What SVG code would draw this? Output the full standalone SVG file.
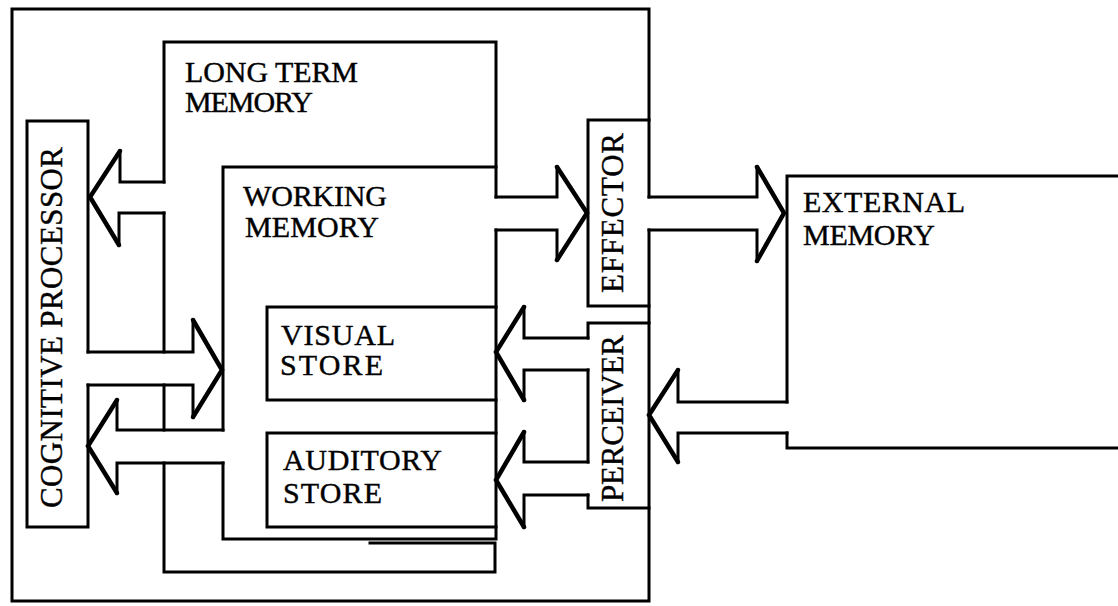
<svg xmlns="http://www.w3.org/2000/svg" width="1118" height="606" viewBox="0 0 1118 606">
<style>
  .ln{fill:none;stroke:#000;stroke-width:3;stroke-linejoin:miter;stroke-linecap:square}
  .hd{fill:none;stroke:#000;stroke-width:4.5;stroke-linejoin:miter;stroke-linecap:round}
  .lb{font-family:"Liberation Serif","Times New Roman",serif;font-size:30px;fill:#000;stroke:#000;stroke-width:0.4}
  .vl{font-size:31px}
</style>
<rect width="1118" height="606" fill="#fff"/>

<!-- enclosing frame of the human processor -->
<g id="frame">
  <path class="ln" d="M649,197 V9 H12 V601 H649 V230"/>
</g>

<g id="cognitive-processor">
  <path class="ln" d="M88,352 V121 H27 V527 H88 V385"/>
  <text class="lb vl" transform="translate(62,508) rotate(-90)" textLength="361" lengthAdjust="spacing">COGNITIVE PROCESSOR</text>
</g>

<g id="long-term-memory">
  <path class="ln" d="M164,182 V42 H496 V197"/>
  <path class="ln" d="M164,213 V352"/>
  <path class="ln" d="M164,385 V430"/>
  <path class="ln" d="M164,463 V572 H495 V543 H370"/>
  <text class="lb" x="185" y="82" textLength="173" lengthAdjust="spacing">LONG TERM</text>
  <text class="lb" x="185" y="112" textLength="128" lengthAdjust="spacing">MEMORY</text>
</g>

<g id="working-memory">
  <path class="ln" d="M223,430 V167 H496"/>
  <path class="ln" d="M496,230 V539 H223 V463"/>
  <text class="lb" x="243" y="206" textLength="144" lengthAdjust="spacing">WORKING</text>
  <text class="lb" x="245" y="237" textLength="134" lengthAdjust="spacing">MEMORY</text>
</g>

<g id="visual-store">
  <path class="ln" d="M496,307 H267 V400 H496"/>
  <text class="lb" x="281" y="345" textLength="114" lengthAdjust="spacing">VISUAL</text>
  <text class="lb" x="280" y="375" textLength="103" lengthAdjust="spacing">STORE</text>
</g>

<g id="auditory-store">
  <path class="ln" d="M496,433 H267 V527 H496"/>
  <text class="lb" x="283" y="470" textLength="159" lengthAdjust="spacing">AUDITORY</text>
  <text class="lb" x="283" y="503" textLength="99" lengthAdjust="spacing">STORE</text>
</g>

<g id="effector">
  <path class="ln" d="M649,120 H588 V306 H649"/>
  <text class="lb vl" transform="translate(623,293) rotate(-90)" textLength="160" lengthAdjust="spacing">EFFECTOR</text>
</g>

<g id="perceiver">
  <path class="ln" d="M649,323 H588 V338 M588,370 V462 M588,495 V508 H649"/>
  <text class="lb vl" transform="translate(623,502) rotate(-90)" textLength="167" lengthAdjust="spacing">PERCEIVER</text>
</g>

<g id="external-memory">
  <path class="ln" d="M1118,176 H787 V402 M787,433 V448 H1118"/>
  <text class="lb" x="803" y="212" textLength="162" lengthAdjust="spacing">EXTERNAL</text>
  <text class="lb" x="803" y="245" textLength="132" lengthAdjust="spacing">MEMORY</text>
</g>

<!-- broad channel arrows between the units -->
<g id="connectors">
  <g id="ltm-to-cp">
    <path class="ln" d="M164,182 H120 V151 M119,245 V213 H164"/>
    <path class="hd" d="M120,151 L90,197 L119,245"/>
  </g>
  <g id="cp-to-wm">
    <path class="ln" d="M88,352 H193 V320 M193,417 V385 H88"/>
    <path class="hd" d="M193,320 L222,370 L193,417"/>
  </g>
  <g id="wm-to-cp">
    <path class="ln" d="M223,430 H117 V400 M117,493 V463 H223"/>
    <path class="hd" d="M117,400 L88,446 L117,493"/>
  </g>
  <g id="wm-to-effector">
    <path class="ln" d="M496,197 H557 V167 M557,260 V230 H496"/>
    <path class="hd" d="M557,167 L587,213 L557,260"/>
  </g>
  <g id="effector-to-external">
    <path class="ln" d="M649,197 H757 V167 M757,261 V230 H649"/>
    <path class="hd" d="M757,167 L784,213 L757,261"/>
  </g>
  <g id="external-to-perceiver">
    <path class="ln" d="M787,402 H678 V370 M678,462 V433 H787"/>
    <path class="hd" d="M678,370 L649,415 L678,462"/>
  </g>
  <g id="perceiver-to-visual">
    <path class="ln" d="M588,338 H524 V307 M524,400 V370 H588"/>
    <path class="hd" d="M524,307 L496,352 L524,400"/>
  </g>
  <g id="perceiver-to-auditory">
    <path class="ln" d="M588,462 H524 V432 M524,527 V495 H588"/>
    <path class="hd" d="M524,432 L496,480 L524,527"/>
  </g>
</g>
</svg>
